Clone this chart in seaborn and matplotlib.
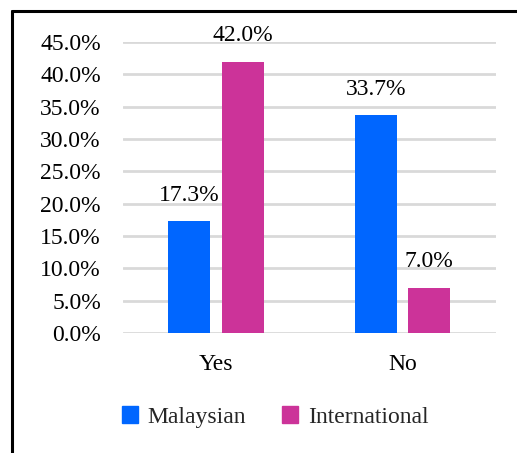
import matplotlib
matplotlib.use("Agg")
import matplotlib.pyplot as plt
from matplotlib.lines import Line2D
from matplotlib.ticker import PercentFormatter
import pandas as pd
import seaborn as sns

# datos
categories = ["Yes", "No"]
groups = ["Malaysian", "International"]
malaysian = [0.173, 0.337]
international = [0.420, 0.070]
colors = ["#0066ff", "#cc3399"]

df = pd.DataFrame({
    "answer": categories * 2,
    "group": [groups[0]] * 2 + [groups[1]] * 2,
    "value": malaysian + international,
})

sns.set_theme(style="white")
plt.rcParams["font.family"] = ["Liberation Serif", "DejaVu Serif"]
fs = 17

fig = plt.figure(figsize=(5.17, 4.53), dpi=100)
ax = fig.add_axes([0.238, 0.265, 0.721, 0.642])

sns.barplot(data=df, x="answer", y="value", hue="group", order=categories,
            hue_order=groups, palette=colors, width=0.574, gap=0.215,
            saturation=1, linewidth=0, ax=ax, legend=False)

for c in ax.containers:
    ax.bar_label(c, labels=[f"{v * 100:.1f}%" for v in c.datavalues],
                 padding=11, fontsize=fs, color="black")

ax.set_ylim(0, 0.45)
ax.set_yticks([i * 0.05 for i in range(10)])
ax.yaxis.set_major_formatter(PercentFormatter(1.0, decimals=1))
ax.grid(axis="y", color="#d9d9d9", linewidth=2)
ax.set_axisbelow(True)
for s in ax.spines.values():
    s.set_visible(False)
ax.tick_params(axis="y", length=0, pad=16, labelsize=fs, labelcolor="black")
ax.tick_params(axis="x", length=0, pad=15, labelsize=fs, labelcolor="black")
ax.set_xlabel("")
ax.set_ylabel("")

handles = [plt.Rectangle((0, 0), 1, 1, color=col) for col in colors]
fig.legend(handles, groups, loc="center", bbox_to_anchor=(0.532, 0.08),
           ncol=2, frameon=False, fontsize=fs, handlelength=0.7,
           handleheight=0.7, handletextpad=0.4, columnspacing=1.5)

# marco (solo arriba e izquierda visibles)
fig.add_artist(Line2D([11.5 / 517, 1], [1 - 11 / 453, 1 - 11 / 453],
                      color="black", linewidth=2.2, transform=fig.transFigure))
fig.add_artist(Line2D([11.5 / 517, 11.5 / 517], [0, 1 - 11 / 453],
                      color="black", linewidth=2.2, transform=fig.transFigure))

fig.savefig("out.png", dpi=100)
